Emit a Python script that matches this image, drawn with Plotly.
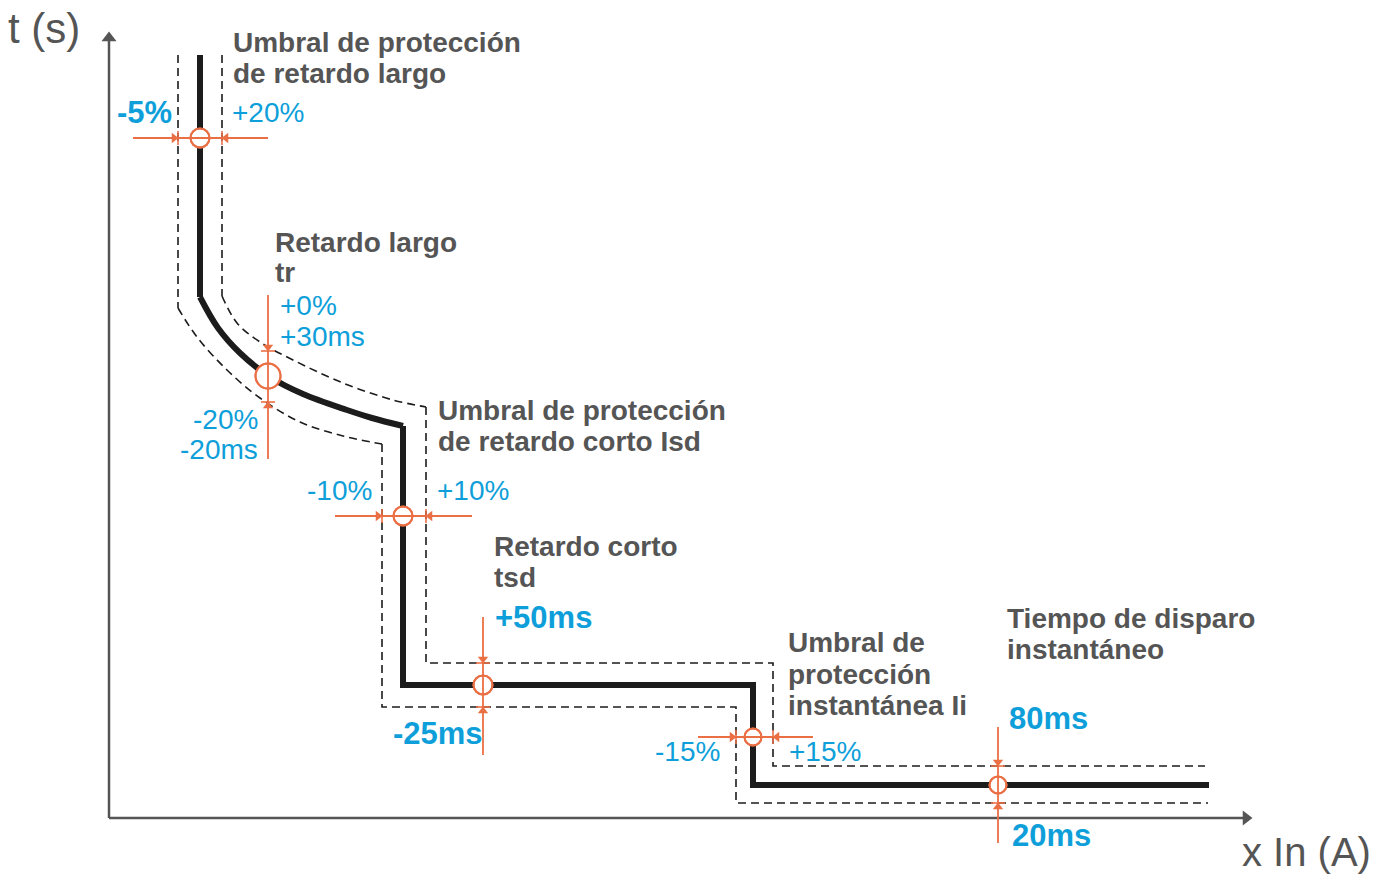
import plotly.graph_objects as go

# ---------------- data (diagram coordinates, pixel-like units) ----------------
axis_origin = (109, 818)
y_axis_tip = 32
x_axis_tip = 1252

main_top_x = [200, 200]
main_top_y = [55, 297]
main_curve_x = [200, 218, 240, 270, 303, 347, 372, 403]
main_curve_y = [297, 328, 353, 377, 394, 410, 418, 426]
main_steps_x = [403, 403, 753, 753, 1209]
main_steps_y = [426, 685, 685, 785, 785]

upper_top_x = [222, 222]
upper_top_y = [55, 296]
upper_curve_x = [222, 237, 260, 293, 343, 393, 426]
upper_curve_y = [296, 323, 342, 360, 383, 400, 407]
upper_steps_x = [426, 426, 773, 773, 1205]
upper_steps_y = [407, 663, 663, 766, 766]

lower_top_x = [178, 178]
lower_top_y = [55, 308]
lower_curve_x = [178, 197, 227, 260, 300, 343, 382]
lower_curve_y = [308, 337, 370, 398, 422, 436, 444]
lower_steps_x = [382, 382, 736, 736, 1208]
lower_steps_y = [444, 707, 707, 803, 803]

circle_x = [200, 268, 403, 483, 753, 998]
circle_y = [138, 376, 516, 685, 737, 785]
circle_size = [19, 25, 19, 19, 17, 17]

# tolerance arrows: orientation, fixed coordinate, span start/end, tick positions
arrow_orient = ["h", "v", "h", "v", "h", "v"]
arrow_fixed = [138, 268, 516, 483, 737, 998]
arrow_start = [133, 295, 335, 617, 698, 727]
arrow_end = [268, 459, 472, 755, 813, 843]
arrow_tick_a = [178, 351, 382, 663, 736, 766]
arrow_tick_b = [222, 402, 426, 707, 773, 803]

# gray labels (one entry per text line)
gray_text = ["Umbral de protección", "de retardo largo",
             "Retardo largo", "tr",
             "Umbral de protección", "de retardo corto Isd",
             "Retardo corto", "tsd",
             "Umbral de", "protección", "instantánea Ii",
             "Tiempo de disparo", "instantáneo"]
gray_x = [231, 231, 273, 273, 436, 436, 492, 492, 786, 786, 786, 1005, 1005]
gray_y = [42, 73, 242, 272, 410, 441, 546, 577, 642, 674, 705, 618, 649]

# blue tolerance labels
blue_text = ["-5%", "+20%", "+0%", "+30ms", "-20%", "-20ms", "-10%", "+10%",
             "+50ms", "-25ms", "-15%", "+15%", "80ms", "20ms"]
blue_bold = [True, False, False, False, False, False, False, False,
             True, True, False, False, True, True]
blue_x = [174, 230, 278, 278, 260, 260, 374, 435, 493, 485, 722, 787, 1007, 1010]
blue_y = [112, 112, 305, 336, 419, 449, 490, 490, 617, 733, 751, 751, 718, 835]
blue_anchor = ["right", "left", "left", "left", "right", "right", "right", "left",
               "left", "right", "right", "left", "left", "left"]

ORANGE = "#EB6F45"
BLUE = "#0E9FDA"
GRAY = "#555555"
BLACK = "#1C1C1C"
FONT = "Liberation Sans, Arial, sans-serif"

fig = go.Figure()


def line(x, y, color, width, dash=None, shape="linear"):
    fig.add_trace(go.Scatter(
        x=x, y=y, mode="lines", hoverinfo="skip", showlegend=False,
        line=dict(color=color, width=width, dash=dash, shape=shape,
                  smoothing=1.0 if shape == "spline" else None)))


# axes
ox, oy = axis_origin
line([ox, ox], [oy, y_axis_tip + 6], GRAY, 2.5)
line([ox, x_axis_tip - 6], [oy, oy], GRAY, 2.5)
fig.add_trace(go.Scatter(x=[ox, x_axis_tip - 6], y=[y_axis_tip + 6, oy], mode="markers",
                         hoverinfo="skip", showlegend=False,
                         marker=dict(symbol=["triangle-up", "triangle-right"], size=13,
                                     color=GRAY, opacity=1, line=dict(width=0))))

# dashed tolerance bands
dash = "8px,5px"
for tx, ty, cx, cy, sx, sy in [
    (upper_top_x, upper_top_y, upper_curve_x, upper_curve_y, upper_steps_x, upper_steps_y),
    (lower_top_x, lower_top_y, lower_curve_x, lower_curve_y, lower_steps_x, lower_steps_y),
]:
    line(tx, ty, BLACK, 1.6, dash)
    line(cx, cy, BLACK, 1.6, dash, shape="spline")
    line(sx, sy, BLACK, 1.6, dash)

# main curve
line(main_top_x, main_top_y, BLACK, 6)
line(main_curve_x, main_curve_y, BLACK, 6, shape="spline")
line(main_steps_x, main_steps_y, BLACK, 6)

# circles (white filled)
fig.add_trace(go.Scatter(x=circle_x, y=circle_y, mode="markers", hoverinfo="skip",
                         showlegend=False,
                         marker=dict(symbol="circle", size=circle_size, color="#FFFFFF",
                                     opacity=1, line=dict(color=ORANGE, width=2))))

# orange tolerance arrows
for o, f, s, e, ta, tb in zip(arrow_orient, arrow_fixed, arrow_start, arrow_end,
                              arrow_tick_a, arrow_tick_b):
    if o == "h":
        line([s, e], [f, f], ORANGE, 1.8)
        line([ta, ta], [f - 7, f + 7], ORANGE, 1.6)
        line([tb, tb], [f - 7, f + 7], ORANGE, 1.6)
        fig.add_trace(go.Scatter(x=[ta - 4, tb + 4], y=[f, f], mode="markers",
                                 hoverinfo="skip", showlegend=False,
                                 marker=dict(symbol=["triangle-right", "triangle-left"],
                                             size=9, color=ORANGE, opacity=1,
                                             line=dict(width=0))))
    else:
        line([f, f], [s, e], ORANGE, 1.8)
        line([f - 7, f + 7], [ta, ta], ORANGE, 1.6)
        line([f - 7, f + 7], [tb, tb], ORANGE, 1.6)
        fig.add_trace(go.Scatter(x=[f, f], y=[ta - 4, tb + 4], mode="markers",
                                 hoverinfo="skip", showlegend=False,
                                 marker=dict(symbol=["triangle-down", "triangle-up"],
                                             size=9, color=ORANGE, opacity=1,
                                             line=dict(width=0))))

# circle outlines again on top so the ring stays crisp
fig.add_trace(go.Scatter(x=circle_x, y=circle_y, mode="markers", hoverinfo="skip",
                         showlegend=False,
                         marker=dict(symbol="circle-open", size=circle_size, opacity=1,
                                     color=ORANGE, line=dict(color=ORANGE, width=2))))

# texts
for t, x, y in zip(gray_text, gray_x, gray_y):
    fig.add_annotation(x=x, y=y, text="<b>" + t + "</b>", showarrow=False,
                       xanchor="left", yanchor="middle",
                       font=dict(family=FONT, size=28, color=GRAY))

for t, b, x, y, a in zip(blue_text, blue_bold, blue_x, blue_y, blue_anchor):
    fig.add_annotation(x=x, y=y, text="<b>" + t + "</b>" if b else t, showarrow=False,
                       xanchor=a, yanchor="middle",
                       font=dict(family=FONT, size=31 if b else 28, color=BLUE))

fig.add_annotation(x=6, y=28, text="t (s)", showarrow=False, xanchor="left", yanchor="middle",
                   font=dict(family=FONT, size=42, color=GRAY))
fig.add_annotation(x=1373, y=852, text="x In (A)", showarrow=False, xanchor="right",
                   yanchor="middle", font=dict(family=FONT, size=40, color=GRAY))

fig.update_layout(
    width=1374, height=874,
    margin=dict(l=0, r=0, t=0, b=0),
    paper_bgcolor="white", plot_bgcolor="white",
    xaxis=dict(range=[0, 1374], visible=False, fixedrange=True),
    yaxis=dict(range=[874, 0], visible=False, fixedrange=True),
)

# remove the page's default body margin so the figure fills the window exactly
fig.write_html("out.html",
               config={"displayModeBar": False, "staticPlot": True},
               post_script="document.body.style.margin='0';"
                           "document.body.style.overflow='hidden';")
